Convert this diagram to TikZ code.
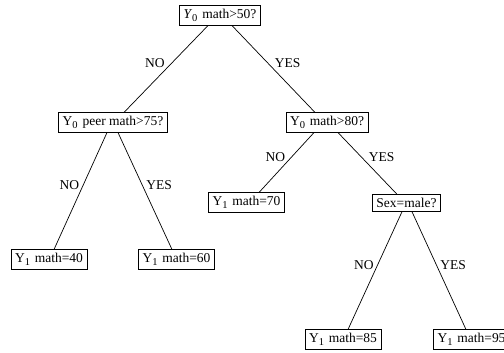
\documentclass[tikz,border=0pt]{standalone}
\usepackage{fontspec}
\setmainfont{Liberation Serif}
\usetikzlibrary{arrows.meta}
% lowered subscript, as in the tree picture
\newcommand{\sbs}[1]{\raisebox{-0.45ex}{\fontsize{10.5}{12}\selectfont #1}\hspace{1.5pt}}

\begin{document}
\begin{tikzpicture}[x=1pt, y=-1pt,
    box/.style={draw, line width=0.9pt, inner xsep=4pt, inner ysep=3.5pt, font=\fontsize{13.5}{16}\selectfont},
    lbl/.style={inner sep=1pt, font=\fontsize{13.5}{16}\selectfont},
    edge/.style={line width=0.7pt}]
    \useasboundingbox (0,0) rectangle (504,353);

    % nodes of the tree
    \node[box] (root)  at (220, 15.5)  {\textit{Y}\sbs{0} math>50?};
    \node[box] (peer)  at (113, 122.5) {Y\sbs{0} peer math>75?};
    \node[box] (math)  at (327, 122.5) {Y\sbs{0} math>80?};
    \node[box] (lfA)   at (49, 259.5)  {Y\sbs{1} math=40};
    \node[box] (lfB)   at (176.5, 259.5) {Y\sbs{1} math=60};
    \node[box] (lfC)   at (246.5, 202.5) {Y\sbs{1} math=70};
    \node[box] (sex)   at (406.5, 203) {Sex=male?};
    \node[box] (lfD)   at (343, 339.5) {Y\sbs{1} math=85};
    \node[box] (lfE)   at (471.5, 339.5) {Y\sbs{1} math=95};

    % branches + labels
    \draw[edge] ([xshift=-12pt]root.south) -- ([xshift=11pt]peer.north)
        node[lbl, midway, above left] {NO};
    \draw[edge] ([xshift=12pt]root.south) -- ([xshift=-12pt]math.north)
        node[lbl, midway, above right] {YES};
    \draw[edge] ([xshift=-6pt]peer.south) -- ([xshift=5pt]lfA.north)
        node[lbl, midway, above left] {NO};
    \draw[edge] ([xshift=5pt]peer.south) -- ([xshift=-4.5pt]lfB.north)
        node[lbl, midway, above right] {YES};
    \draw[edge] ([xshift=-13pt]math.south) -- ([xshift=12.5pt]lfC.north)
        node[lbl, midway, above left] {NO};
    \draw[edge] ([xshift=11pt]math.south) -- ([xshift=-9.5pt]sex.north)
        node[lbl, midway, above right] {YES};
    \draw[edge] ([xshift=-4.5pt]sex.south) -- ([xshift=5pt]lfD.north)
        node[lbl, midway, above left] {NO};
    \draw[edge] ([xshift=5.5pt]sex.south) -- ([xshift=-5.5pt]lfE.north)
        node[lbl, midway, above right] {YES};
\end{tikzpicture}
\end{document}
